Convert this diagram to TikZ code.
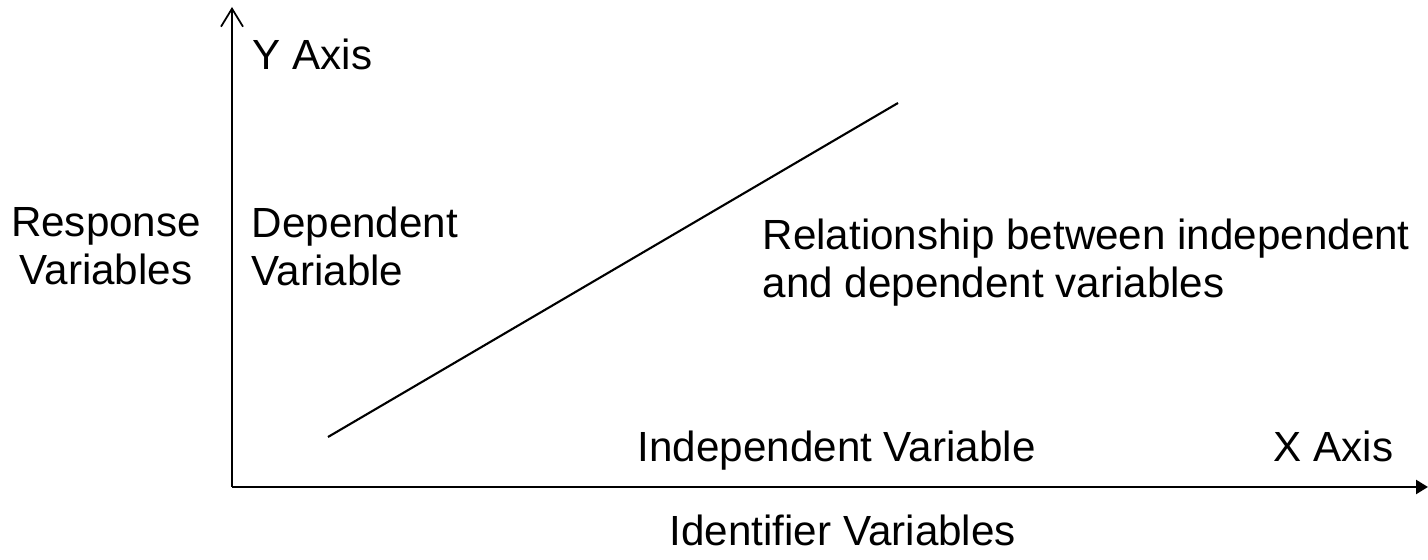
\documentclass[tikz,border=0pt]{standalone}
\usepackage{fontspec}
\setmainfont{Liberation Sans}
\usetikzlibrary{arrows.meta}
\tikzset{
  lbl/.style={inner sep=0pt, font=\fontsize{12}{13.66}\selectfont},
  yaxis/.style={line width=0.5pt, -{Straight Barb[length=1.8mm, width=2.2mm, line width=0.5pt]}},
  xaxis/.style={line width=0.7pt, -{Triangle[length=1.2mm, width=1.4mm]}},
  trend/.style={line width=0.6pt}
}
\begin{document}
\begin{tikzpicture}
        \useasboundingbox (0,0) rectangle (14.28,5.6);
        \coordinate (o) at (2.32, 0.73);
        \coordinate (ytop) at (2.32, 5.53);
        \coordinate (xend) at (14.28, 0.73);
        \coordinate (lo) at (3.28, 1.23);
        \coordinate (hi) at (8.98, 4.57);
        \draw[yaxis] (o) -- (ytop);
        \draw[xaxis] (o) -- (xend);
        \draw[trend] (lo) -- (hi);
        \node[lbl, anchor=base west] (yax) at (2.52, 4.90) {Y Axis};
        \node[lbl, align=center] (resp) at (1.06, 3.14) {Response\\Variables};
        \node[lbl, align=left, anchor=west] (dep) at (2.51, 3.14) {Dependent\\Variable};
        \node[lbl, align=left, anchor=west] (rel) at (7.62, 2.97) {Relationship between independent\\and dependent variables};
        \node[lbl, anchor=base west] (indep) at (6.37, 0.98) {Independent Variable};
        \node[lbl, anchor=base west] (xax) at (12.73, 0.98) {X Axis};
        \node[lbl, anchor=base west] (ident) at (6.69, 0.14) {Identifier Variables};
\end{tikzpicture}
\end{document}
